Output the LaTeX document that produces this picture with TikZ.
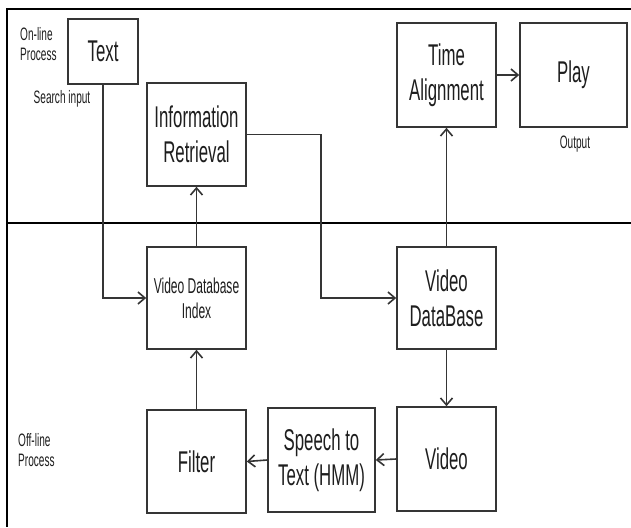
\documentclass[tikz,border=0pt]{standalone}
\usepackage{fontspec}
\setmainfont[FakeStretch=0.56]{Liberation Sans}
\usetikzlibrary{arrows.meta}
\definecolor{ink}{HTML}{1E1E1E}
\definecolor{edge}{HTML}{353535}

\tikzset{
  block/.style={draw=edge,line width=1.6pt,fill=white,inner sep=0pt,align=center,
    text=ink,font=\fontsize{30}{35}\selectfont,minimum width=99pt,minimum height=103pt},
  note/.style={text=ink,inner sep=0pt,font=\fontsize{18}{20}\selectfont},
  flow/.style={draw=edge,line width=1.6pt,-{Straight Barb[length=7pt,width=12pt,line width=1.6pt]}}
}

\begin{document}
\begin{tikzpicture}[x=1pt,y=-1pt]
\useasboundingbox (0,0) rectangle (631,527);
% frame and divider between the two halves
\draw[line width=2.8pt] (631,9) -- (7,9) -- (7,527);
\draw[line width=2.8pt] (7,223) -- (631,223);
\node[note,anchor=north west,align=left] (online) at (20,27) {On-line\\Process};
\node[note,anchor=north west,align=left] (offline) at (18,433) {Off-line\\Process};

% on-line part
\node[block,minimum width=70pt,minimum height=65pt] (text) at (103,51.5) {Text};
\node[note,anchor=base] (search) at (62,103) {Search input};
\node[block] (ir) at (196.5,134.5) {Information\\Retrieval};
\node[block,minimum height=104pt] (align) at (446.5,75) {Time\\Alignment};
\node[block,minimum width=107pt,minimum height=104pt] (play) at (573.5,75) {Play};
\node[note,anchor=base] (output) at (575,148) {Output};

% off-line part
\node[block,minimum height=102pt,font=\fontsize{21.5}{25}\selectfont] (index) at (196.5,298) {Video Database\\Index};
\node[block,minimum height=102pt] (vdb) at (446.5,298) {Video\\DataBase};
\node[block] (filter) at (196.5,461.5) {Filter};
\node[block,minimum width=107pt,minimum height=104pt] (speech) at (321.5,460) {Speech to\\Text (HMM)};
\node[block,minimum height=104pt] (video) at (446.5,459) {Video};

\coordinate (turn) at (321,0);
\draw[flow] (text.south) |- (index.west);
\draw[flow] (index.north) -- (ir.south);
\draw[flow] (ir.east) -| (turn |- vdb.west) -- (vdb.west);
\draw[flow] (vdb.north) -- (align.south);
\draw[flow] (align.east) -- (play.west);
\draw[flow] (vdb.south) -- (video.north);
\draw[flow] (video.west) -- (speech.east);
\draw[flow] (speech.west) -- (filter.east);
\draw[flow] (filter.north) -- (index.south);
\end{tikzpicture}
\end{document}
